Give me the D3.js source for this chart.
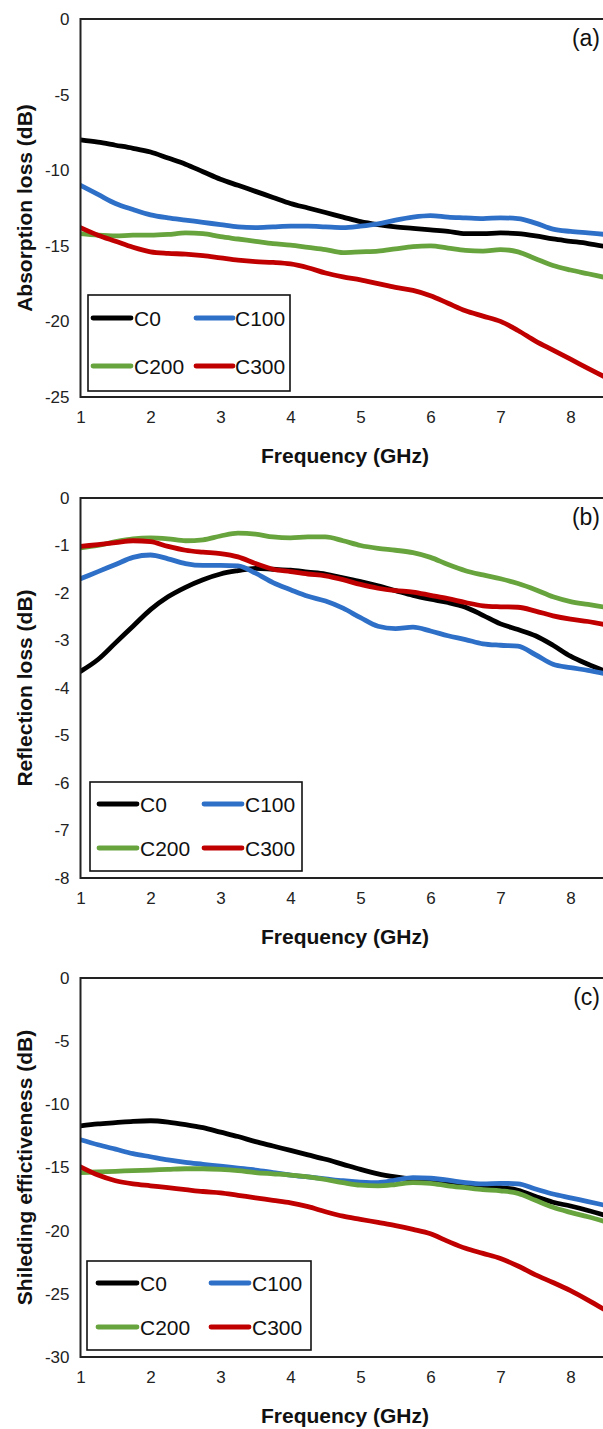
<!DOCTYPE html>
<html><head><meta charset="utf-8">
<script src="https://cdn.jsdelivr.net/npm/d3@7"></script>
<style>body{margin:0;background:#fff;overflow:hidden} svg{display:block}</style>
</head><body><svg id="chart" width="603" height="1429"></svg>
<script>
// ---------------- data ----------------
const freqGHz = [1.0,1.25,1.5,1.75,2.0,2.25,2.5,2.75,3.0,3.25,3.5,3.75,4.0,4.25,4.5,4.75,5.0,5.25,5.5,5.75,6.0,6.25,6.5,6.75,7.0,7.25,7.5,7.75,8.0,8.25,8.5];
const seriesNames = ["C0","C100","C200","C300"];
const seriesColors = ["#000000","#2E6FC8","#68A43E","#C00000"];
const xTickValues = [1,2,3,4,5,6,7,8];
const xTitle = "Frequency (GHz)";

// (a) Absorption loss
const absC0   = [-8.0,-8.15,-8.35,-8.55,-8.8,-9.2,-9.6,-10.1,-10.6,-11.0,-11.4,-11.8,-12.2,-12.5,-12.8,-13.1,-13.4,-13.6,-13.75,-13.85,-13.95,-14.05,-14.2,-14.2,-14.15,-14.2,-14.35,-14.55,-14.7,-14.85,-15.05];
const absC100 = [-11.0,-11.6,-12.2,-12.6,-12.95,-13.15,-13.3,-13.45,-13.6,-13.75,-13.8,-13.75,-13.7,-13.7,-13.75,-13.8,-13.7,-13.55,-13.3,-13.1,-13.0,-13.1,-13.15,-13.2,-13.15,-13.2,-13.5,-13.9,-14.05,-14.15,-14.25];
const absC200 = [-14.2,-14.3,-14.35,-14.3,-14.3,-14.25,-14.15,-14.2,-14.4,-14.55,-14.7,-14.85,-14.95,-15.1,-15.25,-15.45,-15.4,-15.35,-15.2,-15.05,-15.0,-15.15,-15.3,-15.35,-15.25,-15.4,-15.85,-16.3,-16.6,-16.85,-17.1];
const absC300 = [-13.8,-14.3,-14.7,-15.1,-15.4,-15.5,-15.55,-15.65,-15.8,-15.95,-16.05,-16.1,-16.2,-16.45,-16.8,-17.05,-17.25,-17.5,-17.75,-17.95,-18.3,-18.8,-19.3,-19.65,-20.0,-20.6,-21.3,-21.9,-22.5,-23.1,-23.7];
const absTicks = [0,-5,-10,-15,-20,-25];

// (b) Reflection loss
const refC0   = [-3.65,-3.4,-3.05,-2.7,-2.35,-2.08,-1.88,-1.72,-1.6,-1.53,-1.48,-1.5,-1.52,-1.56,-1.6,-1.68,-1.76,-1.85,-1.95,-2.05,-2.13,-2.2,-2.3,-2.47,-2.65,-2.77,-2.9,-3.1,-3.33,-3.5,-3.65];
const refC100 = [-1.7,-1.55,-1.4,-1.25,-1.2,-1.28,-1.38,-1.42,-1.42,-1.43,-1.58,-1.78,-1.93,-2.07,-2.17,-2.32,-2.52,-2.7,-2.75,-2.72,-2.8,-2.9,-2.98,-3.07,-3.1,-3.12,-3.3,-3.5,-3.57,-3.63,-3.7];
const refC200 = [-1.05,-1.0,-0.92,-0.86,-0.84,-0.86,-0.9,-0.88,-0.8,-0.74,-0.76,-0.82,-0.84,-0.82,-0.82,-0.9,-1.0,-1.06,-1.1,-1.15,-1.25,-1.4,-1.53,-1.62,-1.7,-1.8,-1.93,-2.08,-2.18,-2.24,-2.3];
const refC300 = [-1.02,-0.98,-0.94,-0.9,-0.92,-1.02,-1.1,-1.14,-1.17,-1.24,-1.38,-1.5,-1.55,-1.6,-1.64,-1.72,-1.82,-1.9,-1.95,-1.98,-2.05,-2.12,-2.2,-2.27,-2.29,-2.3,-2.38,-2.48,-2.55,-2.6,-2.67];
const refTicks = [0,-1,-2,-3,-4,-5,-6,-7,-8];

// (c) Shielding effectiveness
const seC0   = [-11.7,-11.55,-11.45,-11.35,-11.3,-11.4,-11.6,-11.85,-12.2,-12.55,-12.95,-13.3,-13.65,-14.0,-14.35,-14.75,-15.15,-15.5,-15.75,-15.95,-16.1,-16.25,-16.4,-16.5,-16.6,-16.8,-17.3,-17.75,-18.05,-18.4,-18.8];
const seC100 = [-12.8,-13.2,-13.55,-13.9,-14.15,-14.4,-14.6,-14.75,-14.9,-15.05,-15.2,-15.4,-15.6,-15.75,-15.9,-16.05,-16.15,-16.2,-16.0,-15.8,-15.85,-16.0,-16.2,-16.3,-16.25,-16.3,-16.7,-17.1,-17.4,-17.7,-18.0];
const seC200 = [-15.4,-15.35,-15.3,-15.25,-15.2,-15.15,-15.1,-15.1,-15.15,-15.25,-15.4,-15.5,-15.6,-15.75,-15.95,-16.2,-16.4,-16.45,-16.35,-16.2,-16.25,-16.45,-16.6,-16.75,-16.85,-17.05,-17.6,-18.15,-18.55,-18.9,-19.3];
const seC300 = [-14.95,-15.6,-16.05,-16.3,-16.45,-16.6,-16.75,-16.9,-17.0,-17.2,-17.4,-17.6,-17.8,-18.1,-18.5,-18.85,-19.1,-19.35,-19.6,-19.9,-20.25,-20.85,-21.4,-21.8,-22.2,-22.8,-23.5,-24.1,-24.75,-25.5,-26.3];
const seTicks = [0,-5,-10,-15,-20,-25,-30];

const panelLabels = ["(a)","(b)","(c)"];
const yTitles = ["Absorption loss (dB)","Reflection loss (dB)","Shileding effictiveness (dB)"];

// ---------------- layout (positions only) ----------------
const FONT = "'Liberation Sans', Arial, Helvetica, sans-serif";
const plotLeft = 80.5, plotRight = 640.5;
const panels = [
  {series:[absC0,absC100,absC200,absC300], ticks:absTicks, top:19,  bottom:397,
   legend:{x0:88,y0:295,x1:290,y1:391, rows:[318,366], cols:[[93,131,134],[196,233,235]]}},
  {series:[refC0,refC100,refC200,refC300], ticks:refTicks, top:498, bottom:878,
   legend:{x0:90,y0:782,x1:302,y1:871, rows:[804,848], cols:[[99,137,140],[204,242,245]]}},
  {series:[seC0,seC100,seC200,seC300], ticks:seTicks, top:978, bottom:1357,
   legend:{x0:87,y0:1261,x1:311,y1:1350, rows:[1283,1327], cols:[[98,137,140],[211,249,252]]}}
];

const svg = d3.select("#chart");
const x = d3.scaleLinear().domain([1, 9]).range([plotLeft, plotRight]);

panels.forEach((p, i) => {
  const y = d3.scaleLinear().domain([d3.min(p.ticks), d3.max(p.ticks)]).range([p.bottom, p.top]);
  const g = svg.append("g");

  const clipId = "clip" + i;
  svg.append("clipPath").attr("id", clipId).append("rect")
    .attr("x", plotLeft).attr("y", p.top).attr("width", plotRight - plotLeft).attr("height", p.bottom - p.top);

  // series lines
  const line = d3.line().x((d, k) => x(freqGHz[k])).y(d => y(d)).curve(d3.curveMonotoneX);
  p.series.forEach((vals, s) => {
    g.append("path").datum(vals)
      .attr("clip-path", `url(#${clipId})`)
      .attr("d", line)
      .attr("fill", "none").attr("stroke", seriesColors[s])
      .attr("stroke-width", 4.8).attr("stroke-linejoin", "round").attr("stroke-linecap", "round");
  });

  // frame
  g.append("rect").attr("x", plotLeft).attr("y", p.top)
    .attr("width", plotRight - plotLeft).attr("height", p.bottom - p.top)
    .attr("fill", "none").attr("stroke", "#222").attr("stroke-width", 2);

  // axes (hyphen-minus labels as in the original)
  const fmt = d => String(d);
  const yAxis = g.append("g").attr("transform", `translate(${plotLeft},0)`)
    .call(d3.axisLeft(y).tickValues(p.ticks).tickSize(0).tickPadding(11).tickFormat(fmt));
  const xAxis = g.append("g").attr("transform", `translate(0,${p.bottom})`)
    .call(d3.axisBottom(x).tickValues(xTickValues).tickSize(0).tickPadding(14).tickFormat(fmt));
  [yAxis, xAxis].forEach(a => {
    a.select(".domain").remove();
    a.selectAll("text").attr("font-family", FONT).attr("font-size", 17).attr("fill", "#222");
  });

  // titles
  g.append("text").attr("x", 345).attr("y", p.bottom + 58)
    .attr("text-anchor", "middle").attr("dominant-baseline", "central")
    .attr("font-family", FONT).attr("font-weight", "bold").attr("font-size", 21).attr("fill", "#111")
    .text(xTitle);
  g.append("text")
    .attr("transform", `translate(24,${(p.top + p.bottom) / 2}) rotate(-90)`)
    .attr("text-anchor", "middle").attr("dominant-baseline", "central")
    .attr("font-family", FONT).attr("font-weight", "bold").attr("font-size", 21).attr("fill", "#111")
    .text(yTitles[i]);
  g.append("text").attr("x", 600).attr("y", p.top + 19)
    .attr("text-anchor", "end").attr("dominant-baseline", "central")
    .attr("font-family", FONT).attr("font-size", 23).attr("fill", "#111")
    .text(panelLabels[i]);

  // legend
  const L = p.legend;
  const lg = g.append("g");
  lg.append("rect").attr("x", L.x0).attr("y", L.y0).attr("width", L.x1 - L.x0).attr("height", L.y1 - L.y0)
    .attr("fill", "#fff").attr("stroke", "#111").attr("stroke-width", 1.6);
  seriesNames.forEach((name, s) => {
    const row = Math.floor(s / 2), col = s % 2;
    const c = L.cols[col], yy = L.rows[row];
    lg.append("line").attr("x1", c[0]).attr("x2", c[1]).attr("y1", yy).attr("y2", yy)
      .attr("stroke", seriesColors[s]).attr("stroke-width", 4.8).attr("stroke-linecap", "round");
    lg.append("text").attr("x", c[2]).attr("y", yy)
      .attr("dominant-baseline", "central")
      .attr("font-family", FONT).attr("font-size", 21).attr("fill", "#111")
      .text(name);
  });
});
</script>
</body></html>
